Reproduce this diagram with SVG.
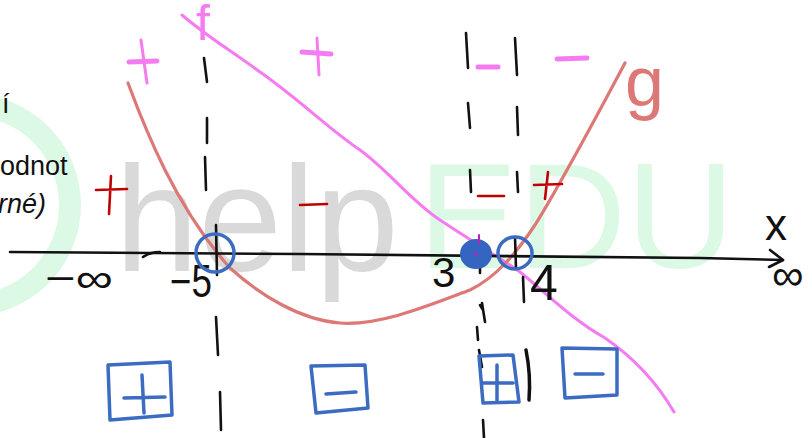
<svg xmlns="http://www.w3.org/2000/svg" width="812" height="438" viewBox="0 0 812 438">
<style>
.wm{font-family:"Liberation Sans",Arial,sans-serif;font-size:150px}
.ink{fill:none;stroke-linecap:round;stroke-linejoin:round}
.blk{stroke:#111;stroke-width:2.6}
.mag{stroke:#f57cf0;stroke-width:3}
.magb{stroke:#f57cf0;stroke-width:5}
.sal{stroke:#dc7876;stroke-width:3.2}
.red{stroke:#c00000;stroke-width:2.6}
.blu{stroke:#3c6cc2;stroke-width:3.5}
.hand{font-family:"Liberation Sans",Arial,sans-serif;fill:#111}
.doc{font-family:"Liberation Sans",Arial,sans-serif;font-size:27px;fill:#111}
</style>
<rect width="812" height="438" fill="#fff"/>
<g id="watermark">
<circle cx="-30" cy="205" r="100" fill="none" stroke="#dcf9e6" stroke-width="22"/>
<text class="wm" x="115" y="271" fill="#d9d9d9">help</text>
<text class="wm" x="418" y="268" fill="#dcf9e6">EDU</text>
</g>
<g id="document-text">
<text class="doc" x="2" y="113">í</text>
<text class="doc" x="0" y="175">odnot</text>
<text class="doc" x="-2" y="213" font-style="italic">rné)</text>
</g>
<g id="curves">
<path id="curve-f" class="ink mag" d="M182,15 C205,35 230,50 260,72 C300,100 330,130 360,150 C390,172 410,200 440,220 C470,240 500,258 520,272 C545,292 570,318 605,338 C640,362 660,388 674,412"/>
<path id="curve-g" class="ink sal" d="M128,83 C138,110 150,140 165,170 C185,210 205,240 230,268 C260,295 300,320 340,323 C380,326 430,305 470,290 C495,278 515,255 535,225 C560,185 600,110 625,63"/>
<text x="196" y="40" font-family="Liberation Sans,Arial,sans-serif" font-size="50" fill="#f57cf0">f</text>
<text x="625" y="106" font-family="Liberation Sans,Arial,sans-serif" font-size="70" fill="#dc7876">g</text>
</g>
<g id="axis">
<path class="ink blk" stroke-width="3" d="M10,252 C100,253 200,254 300,254 C450,255 600,256 700,258 L783,260"/>
<path class="ink blk" stroke-width="2" d="M143,257 Q150,252 160,252"/>
<path class="ink blk" stroke-width="3" d="M770,250 L783,260 L769,267"/>
<text class="hand" x="765" y="240" font-size="44">x</text>
<text class="hand" x="772" y="290" font-size="44">∞</text>
<text class="hand" x="45" y="292" font-size="40" textLength="68" lengthAdjust="spacingAndGlyphs">−∞</text>
<text class="hand" x="170" y="297" font-size="46" textLength="42" lengthAdjust="spacingAndGlyphs">−5</text>
<text class="hand" x="432" y="287" font-size="42">3</text>
<text class="hand" x="530" y="300" font-size="50">4</text>
</g>
<g id="dashed-lines" class="ink blk">
<path d="M204,58 L207,82 M207,118 L207,143 M205,157 L206,190 M216,225 L217,275 M216,317 L218,355 M220,392 L221,430"/>
<path d="M466,33 L468,68 M468,103 L470,128 M470,170 L471,192 M480,267 L480,273 M482,303 L485,322 M480,305 L483,310 M477,327 L478,340 M479,350 L482,367 M483,420 L484,438"/>
<path d="M515,38 L517,75 M517,107 L518,135 M517,172 L518,192 M515,237 L516,268 M523,277 L524,302"/>
<path stroke-width="3.5" d="M526,350 Q531,375 529,400"/>
</g>
<g id="points">
<ellipse cx="476" cy="254" rx="15" ry="14" fill="#3565c0" stroke="#3565c0" stroke-width="2"/>
<circle cx="476" cy="254" r="1.8" fill="#c020c0"/>
<path class="ink" stroke="#c020c0" stroke-width="2" d="M479,235 L479,243"/>
<circle cx="215" cy="253" r="19" class="ink blu" stroke-width="3"/>
<ellipse cx="515" cy="253" rx="17" ry="16" class="ink blu" stroke-width="3"/>
</g>
<g id="signs-top">
<path class="ink magb" d="M129,62 L157,61 M302,52 L331,54 M478,67 L498,67 M557,59 L587,58"/>
<path class="ink mag" stroke-width="2" d="M141,40 L147,83 M317,38 L319,75"/>
</g>
<g id="signs-red" class="ink red">
<path d="M96,190 L127,189 M111,176 L109,214"/>
<path d="M300,205 L327,204"/>
<path d="M478,196 L504,196"/>
<path d="M534,185 L562,184 M548,172 L545,199"/>
</g>
<g id="boxes" class="ink blu">
<path d="M108,365 L170,362 L172,415 L110,420 Z M124,398 L165,397 M142,375 L144,413"/>
<path d="M311,366 L365,365 L368,408 L316,413 Z M326,394 L356,392"/>
<path d="M479,356 L513,355 L519,402 L483,403 Z M483,383 L513,383 M497,365 L497,400"/>
<path d="M562,348 L617,349 L617,395 L565,398 Z M575,374 L603,374"/>
</g>
</svg>
